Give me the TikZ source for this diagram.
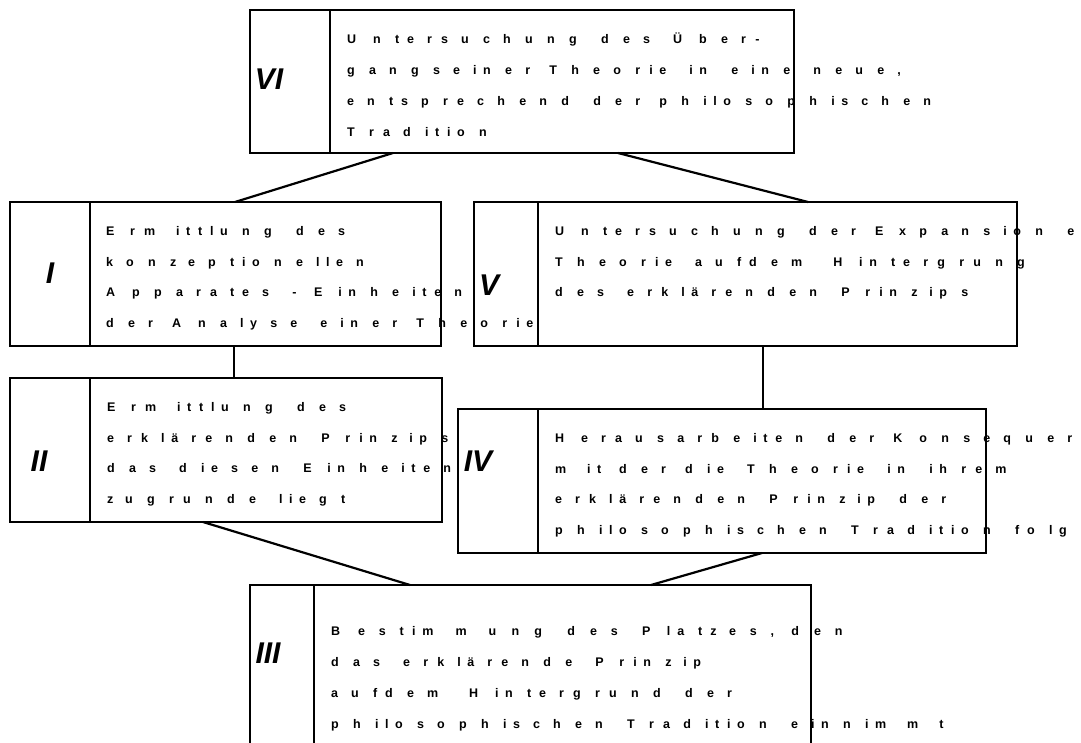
\documentclass[tikz,border=0pt]{standalone}
\usepackage{fontspec}
\setmainfont{Liberation Sans}
\ExplSyntaxOn
\box_new:N \l_rs_box
\NewDocumentCommand\spaced{O{36}m}
 {
  \str_map_inline:nn {#2}
   {
    \hbox_set:Nn \l_rs_box { \fontsize{#1}{#1}\selectfont ##1 }
    \hbox_to_wd:nn { \box_wd:N \l_rs_box } { ##1 \hfil }
   }
 }
\ExplSyntaxOff
\begin{document}
\begin{tikzpicture}[x=1pt,y=-1pt,
  box/.style={draw, line width=2.2pt, rectangle, inner sep=0pt, outer sep=0pt},
  conn/.style={line width=2.2pt},
  rom/.style={font=\fontsize{30}{30}\selectfont\bfseries\itshape, inner sep=0pt},
  txt/.style={font=\fontsize{12.5}{12.5}\selectfont\bfseries, inner sep=0pt, anchor=base west}]
\useasboundingbox (0,0) rectangle (1081,743);
\clip (0,0) rectangle (1081,743);
\fill[white] (0,0) rectangle (1081,743);

% boxes
\node[box, minimum width=544pt, minimum height=143pt] (VI) at (522,81.5) {};
\node[box, minimum width=431pt, minimum height=144pt] (I) at (225.5,274) {};
\node[box, minimum width=543pt, minimum height=144pt] (V) at (745.5,274) {};
\node[box, minimum width=432pt, minimum height=144pt] (II) at (226,450) {};
\node[box, minimum width=528pt, minimum height=144pt] (IV) at (722,481) {};
\node[box, minimum width=561pt, minimum height=185pt] (III) at (530.5,677.5) {};

% dividers
\draw[conn] ([xshift=80pt]VI.north west) -- ([xshift=80pt]VI.south west);
\draw[conn] ([xshift=80pt]I.north west) -- ([xshift=80pt]I.south west);
\draw[conn] ([xshift=64pt]V.north west) -- ([xshift=64pt]V.south west);
\draw[conn] ([xshift=80pt]II.north west) -- ([xshift=80pt]II.south west);
\draw[conn] ([xshift=80pt]IV.north west) -- ([xshift=80pt]IV.south west);
\draw[conn] ([xshift=64pt]III.north west) -- ([xshift=64pt]III.south west);

% connectors
\draw[conn] ([xshift=143pt]VI.south west) -- ([xshift=225pt]I.north west);
\draw[conn] ([xshift=368pt]VI.south west) -- ([xshift=334pt]V.north west);
\draw[conn] ([xshift=224pt]I.south west) -- ([xshift=224pt]II.north west);
\draw[conn] ([xshift=289pt]V.south west) -- ([xshift=305pt]IV.north west);
\draw[conn] ([xshift=193pt]II.south west) -- ([xshift=160pt]III.north west);
\draw[conn] ([xshift=304pt]IV.south west) -- ([xshift=401pt]III.north west);

% roman labels
\node[rom] (lVI) at (269,79) {VI};
\node[rom] (lI) at (50,273) {I};
\node[rom] (lV) at (489,285) {V};
\node[rom] (lII) at (39,461) {II};
\node[rom] (lIV) at (478,461) {IV};
\node[rom] (lIII) at (268,653) {III};

% texts VI
\node[txt] (tVIa) at (347,43.5) {\spaced{Untersuchung des Über-}};
\node[txt] (tVIb) at (347,74.5) {\spaced{gangseiner Theorie in eine neue,}};
\node[txt] (tVIc) at (347,105.5) {\spaced{entsprechend der philosophischen}};
\node[txt] (tVId) at (347,136.5) {\spaced{Tradition}};

% texts I
\node[txt] (tIa) at (106,235.5) {\spaced{Ermittlung des}};
\node[txt] (tIb) at (106,266.2) {\spaced{konzeptionellen}};
\node[txt] (tIc) at (106,296.9) {\spaced{Apparates - Einheiten}};
\node[txt] (tId) at (106,327.6) {\spaced{der Analyse einer Theorie}};

% texts V
\node[txt] (tVa) at (555,235.5) {\spaced{Untersuchung der Expansion e}};
\node[txt] (tVb) at (555,266.2) {\spaced{Theorie aufdem Hintergrung}};
\node[txt] (tVc) at (555,296.9) {\spaced{des erklärenden Prinzips}};

% texts II
\node[txt] (tIIa) at (107,411.5) {\spaced{Ermittlung des}};
\node[txt] (tIIb) at (107,442.2) {\spaced{erklärenden Prinzips}};
\node[txt] (tIIc) at (107,472.9) {\spaced{das diesen Einheiten}};
\node[txt] (tIId) at (107,503.6) {\spaced{zugrunde liegt}};

% texts IV
\node[txt] (tIVa) at (555,442.5) {\spaced{Herausarbeiten der Konsequer}};
\node[txt] (tIVb) at (555,473.2) {\spaced{mit der die Theorie in ihrem}};
\node[txt] (tIVc) at (555,503.9) {\spaced{erklärenden Prinzip der}};
\node[txt] (tIVd) at (555,534.6) {\spaced{philosophischen Tradition folg}};

% texts III
\node[txt] (tIIIa) at (331,635) {\spaced[37.3]{Bestimmung des Platzes, den}};
\node[txt] (tIIIb) at (331,666) {\spaced{das erklärende Prinzip}};
\node[txt] (tIIIc) at (331,697) {\spaced{aufdem Hintergrund der}};
\node[txt] (tIIId) at (331,728) {\spaced{philosophischen Tradition einnimmt}};
\end{tikzpicture}
\end{document}
